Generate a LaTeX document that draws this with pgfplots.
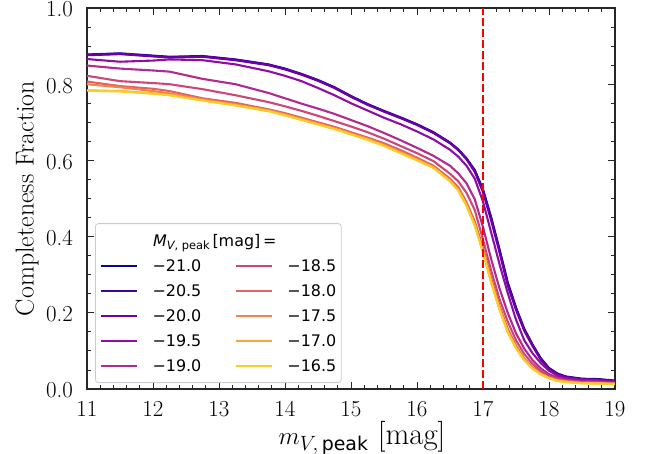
\documentclass[border=0pt]{standalone}
\usepackage{fontspec}
\usepackage{pgfplots}
\usepackage{pgfplotstable}
\pgfplotsset{compat=1.18}
\newfontfamily\dejavu{DejaVu Sans}

% plasma colour map, one colour per peak magnitude
\definecolor{c210}{HTML}{0D0887}
\definecolor{c205}{HTML}{41049D}
\definecolor{c200}{HTML}{6A00A8}
\definecolor{c195}{HTML}{8F0DA4}
\definecolor{c190}{HTML}{B12A90}
\definecolor{c185}{HTML}{CC4778}
\definecolor{c180}{HTML}{E16462}
\definecolor{c175}{HTML}{F2844B}
\definecolor{c170}{HTML}{FCA636}
\definecolor{c165}{HTML}{FCCE25}

% completeness fraction vs. apparent peak magnitude, one column per M_V,peak
\pgfplotstableread{
m      a210  a205  a200  a195  a190  a185  a180  a175  a170  a165
11.0   0.877 0.878 0.876 0.866 0.849 0.822 0.807 0.800 0.784 0.783
11.5   0.880 0.881 0.879 0.859 0.841 0.808 0.795 0.792 0.782 0.781
12.0   0.874 0.875 0.873 0.862 0.836 0.803 0.788 0.782 0.776 0.775
12.25  0.871 0.872 0.870 0.865 0.833 0.800 0.782 0.776 0.772 0.771
12.75  0.873 0.874 0.872 0.863 0.814 0.787 0.763 0.760 0.758 0.757
13.25  0.864 0.865 0.863 0.852 0.800 0.771 0.751 0.747 0.745 0.744
13.75  0.851 0.852 0.850 0.834 0.777 0.753 0.734 0.732 0.730 0.729
14.0   0.840 0.841 0.839 0.822 0.763 0.742 0.724 0.721 0.719 0.718
14.25  0.826 0.827 0.825 0.808 0.749 0.730 0.712 0.709 0.707 0.706
14.5   0.810 0.811 0.809 0.790 0.736 0.717 0.700 0.697 0.695 0.694
14.75  0.791 0.792 0.790 0.771 0.722 0.703 0.688 0.685 0.683 0.682
15.0   0.768 0.769 0.767 0.750 0.706 0.689 0.674 0.671 0.669 0.668
15.25  0.747 0.748 0.746 0.731 0.690 0.674 0.660 0.657 0.655 0.654
15.5   0.729 0.730 0.728 0.712 0.672 0.657 0.645 0.641 0.639 0.638
15.75  0.712 0.713 0.711 0.695 0.653 0.638 0.627 0.622 0.620 0.619
16.0   0.694 0.695 0.693 0.676 0.633 0.619 0.607 0.603 0.601 0.600
16.25  0.673 0.674 0.672 0.655 0.612 0.598 0.586 0.583 0.581 0.580
16.5   0.646 0.647 0.645 0.628 0.586 0.565 0.552 0.548 0.546 0.545
16.625 0.628 0.629 0.627 0.610 0.566 0.545 0.530 0.524 0.522 0.521
16.75  0.605 0.605 0.603 0.586 0.540 0.515 0.490 0.484 0.482 0.481
16.875 0.575 0.573 0.570 0.552 0.498 0.470 0.440 0.432 0.430 0.429
17.0   0.524 0.521 0.517 0.492 0.425 0.392 0.370 0.362 0.360 0.359
17.125 0.450 0.446 0.442 0.410 0.340 0.310 0.290 0.282 0.280 0.279
17.25  0.367 0.363 0.359 0.328 0.264 0.236 0.218 0.212 0.210 0.209
17.375 0.280 0.276 0.272 0.252 0.200 0.177 0.158 0.152 0.150 0.149
17.5   0.214 0.211 0.208 0.182 0.146 0.128 0.114 0.110 0.108 0.107
17.625 0.158 0.156 0.153 0.128 0.106 0.092 0.080 0.078 0.076 0.075
17.75  0.117 0.115 0.113 0.094 0.076 0.066 0.057 0.056 0.054 0.053
17.875 0.081 0.079 0.077 0.068 0.054 0.047 0.041 0.040 0.039 0.038
18.0   0.055 0.054 0.052 0.048 0.039 0.034 0.030 0.030 0.029 0.028
18.125 0.041 0.040 0.039 0.035 0.030 0.026 0.023 0.023 0.022 0.021
18.25  0.033 0.032 0.031 0.029 0.025 0.022 0.020 0.020 0.019 0.018
18.5   0.027 0.026 0.025 0.024 0.020 0.018 0.016 0.016 0.015 0.015
18.75  0.026 0.025 0.024 0.023 0.019 0.017 0.016 0.016 0.015 0.014
19.0   0.022 0.021 0.020 0.019 0.016 0.015 0.014 0.014 0.013 0.013
}\completeness

\begin{document}
\begin{tikzpicture}
\useasboundingbox (-87bp,-65bp) rectangle (566bp,389bp);
\begin{axis}[
  at={(0,0)}, anchor=south west,
  scale only axis, width=528bp, height=381bp,
  xmin=11, xmax=19, ymin=0, ymax=1,
  xtick={11,12,...,19}, ytick={0,0.2,0.4,0.6,0.8,1.0},
  minor x tick num=4, minor y tick num=3,
  tick align=inside, xtick pos=both, ytick pos=both,
  major tick length=7bp, minor tick length=4bp,
  axis line style={black!85, line width=1.2bp},
  every tick/.style={black!85, line width=0.9bp},
  /pgf/number format/assume math mode=true,
  tick label style={font=\fontsize{23}{27}\selectfont},
  xticklabel style={anchor=north, inner sep=0pt, yshift=-12bp},
  yticklabel style={anchor=east, inner sep=0pt, xshift=-14bp, yshift=-1.6bp,
    /pgf/number format/.cd, fixed, fixed zerofill, precision=1},
  xlabel={$m_{V,\,\mbox{\dejavu\fontsize{19}{22}\selectfont peak}}$ [mag]},
  xlabel style={font=\fontsize{31}{35}\selectfont,
    at={(axis description cs:0.5,0)}, anchor=center, xshift=11bp, yshift=-49bp},
  ylabel={Completeness Fraction},
  ylabel style={font=\fontsize{26}{30}\selectfont,
    at={(axis description cs:0,0.5)}, anchor=center, yshift=60bp},
  legend columns=2,
  legend cell align=left,
  legend image code/.code={\draw[#1, line width=2.1bp] (0bp,0bp) -- (36bp,0bp);},
  legend style={at={(0.0152,0.0157)}, anchor=south west,
    draw=black!20, line width=0.8bp, rounded corners=3bp, fill=white,
    font=\dejavu\fontsize{16}{19}\selectfont,
    inner xsep=5bp, inner ysep=11bp, row sep=13bp,
    nodes={inner sep=0pt, text height=12bp, text depth=0bp},
    /tikz/every odd column/.append style={column sep=14bp},
    /tikz/every even column/.append style={column sep=34bp}},
  every axis plot/.append style={line width=2.1bp, forget plot},
]
\addplot[c210] table[x=m, y=a210] {\completeness};
\addplot[c205] table[x=m, y=a205] {\completeness};
\addplot[c200] table[x=m, y=a200] {\completeness};
\addplot[c195] table[x=m, y=a195] {\completeness};
\addplot[c190] table[x=m, y=a190] {\completeness};
\addplot[c185] table[x=m, y=a185] {\completeness};
\addplot[c180] table[x=m, y=a180] {\completeness};
\addplot[c175] table[x=m, y=a175] {\completeness};
\addplot[c170] table[x=m, y=a170] {\completeness};
\addplot[c165] table[x=m, y=a165] {\completeness};
\addplot[red, line width=2bp, dash pattern=on 7.7bp off 3.3bp]
  coordinates {(17,0) (17,1)};

% legend filled row by row so that it reads column by column
\addlegendimage{empty legend}
\addlegendentry{\makebox[0pt][l]{{\itshape M}\raisebox{-0.35ex}{\fontsize{11.5}{12}\selectfont{\itshape V}, peak}\,[mag]\,=}}
\addlegendimage{empty legend}\addlegendentry{}
\addlegendimage{c210}\addlegendentry{−21.0}
\addlegendimage{c185}\addlegendentry{−18.5}
\addlegendimage{c205}\addlegendentry{−20.5}
\addlegendimage{c180}\addlegendentry{−18.0}
\addlegendimage{c200}\addlegendentry{−20.0}
\addlegendimage{c175}\addlegendentry{−17.5}
\addlegendimage{c195}\addlegendentry{−19.5}
\addlegendimage{c170}\addlegendentry{−17.0}
\addlegendimage{c190}\addlegendentry{−19.0}
\addlegendimage{c165}\addlegendentry{−16.5}
\end{axis}
\end{tikzpicture}
\end{document}
